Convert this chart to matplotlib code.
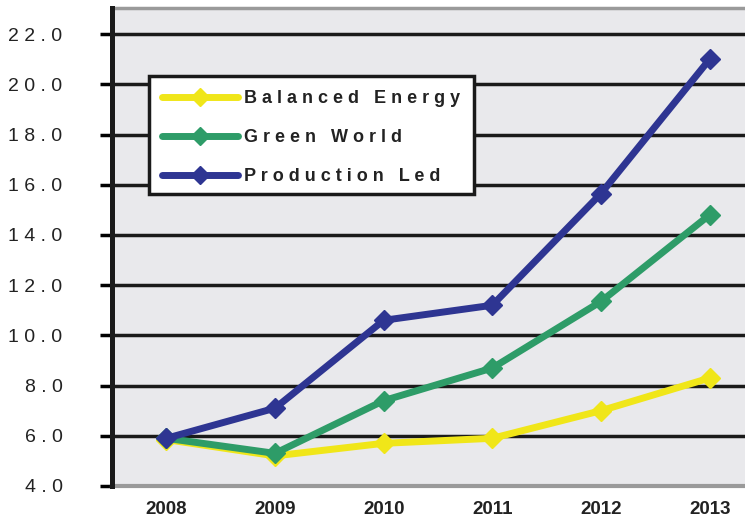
import matplotlib
matplotlib.use("Agg")
import matplotlib.pyplot as plt
from matplotlib.patches import Rectangle

years = ["2008", "2009", "2010", "2011", "2012", "2013"]
balanced_energy = [5.85, 5.2, 5.7, 5.9, 7.0, 8.3]
green_world = [5.9, 5.3, 7.4, 8.7, 11.35, 14.8]
production_led = [5.9, 7.1, 10.6, 11.2, 15.65, 21.0]
series_names = ["Balanced Energy", "Green World", "Production Led"]
y_ticks = [4, 6, 8, 10, 12, 14, 16, 18, 20, 22]

colors = ["#f0e619", "#2e9c68", "#2e3592"]

def spaced(s):
    return "   ".join(" ".join(w) for w in s.split(" "))

plt.rcParams['font.family'] = ['Liberation Sans', 'DejaVu Sans']

W, H = 745, 521
fig = plt.figure(figsize=(W/100, H/100), dpi=100)
ax = fig.add_axes([112/W, 35/H, 652/W, 478/H])
ax.set_facecolor("#e9e9ec")

x = list(range(len(years)))
for vals, name, c in zip([balanced_energy, green_world, production_led], series_names, colors):
    ax.plot(x, vals, color=c, lw=5, marker="D", markersize=10.5, label=spaced(name),
            solid_capstyle="round", zorder=3)

ax.set_xlim(-0.5, 5.5)
ax.set_ylim(4, 23.04)
ax.set_yticks(y_ticks)
ax.set_yticklabels([" ".join(f"{v:.1f}") for v in y_ticks], fontsize=14, color="#222222")
ax.set_xticks(x)
ax.set_xticklabels(years, fontsize=13.5, fontweight="bold", color="#222222")
ax.tick_params(axis="y", length=8.6, width=2.5, color="black", pad=27)
ax.tick_params(axis="x", length=0, pad=11)

ax.grid(axis="y", color="#1a1a1a", lw=2.5)
ax.set_axisbelow(True)

ax.spines["left"].set_color("#1a1a1a")
ax.spines["left"].set_linewidth(3.6)
ax.spines["left"].set_zorder(4)
ax.spines["bottom"].set_color("#9a9a9a")
ax.spines["bottom"].set_linewidth(3)
ax.spines["top"].set_color("#9a9a9a")
ax.spines["top"].set_linewidth(2.5)
ax.spines["right"].set_visible(False)

# legend frame
frame = Rectangle((149/W, 1 - 193.5/H), (473.5 - 149)/W, (193.5 - 76.5)/H,
                  transform=fig.transFigure, facecolor="white", edgecolor="#1a1a1a",
                  lw=2.5, zorder=4, clip_on=False)
ax.add_artist(frame)

leg = ax.legend(loc="upper left", bbox_to_anchor=(147/W, 1 - 80/H, 326/W, 0.01),
                bbox_transform=fig.transFigure, mode="expand", borderaxespad=0,
                prop={"weight": "bold", "size": 13}, handlelength=4.2, handletextpad=0.35,
                labelspacing=1.22, borderpad=0.85, frameon=False, markerscale=0.85)
leg.set_zorder(5)
for t in leg.get_texts():
    t.set_color("#222222")

fig.savefig("out.png", dpi=100, facecolor="white")
